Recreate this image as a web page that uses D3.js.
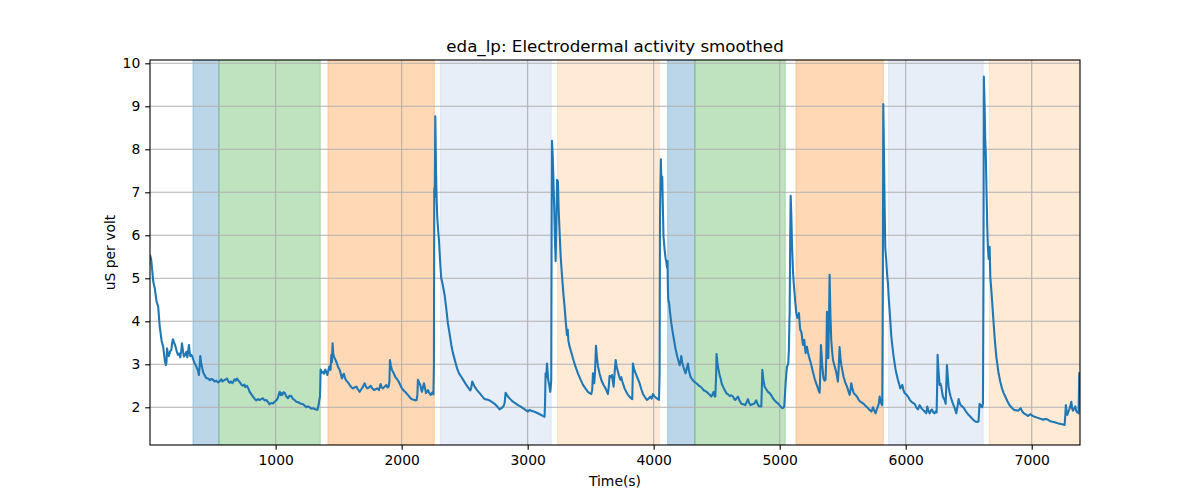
<!DOCTYPE html>
<html>
<head>
<meta charset="utf-8">
<script src="https://cdn.jsdelivr.net/npm/d3@7/dist/d3.min.js"></script>
<style>
  body { margin: 0; background: #fff; }
  text { font-family: "DejaVu Sans", sans-serif; }
</style>
</head>
<body>
<svg id="chart"></svg>
<script>
// time stamps (s) and smoothed eda values (uS per volt)
var timeVals = [3,13,29,42,55,68,80,95,108,120,129,134,138,145,153,162,172,180,185,195,206,215,225,235,243,250,257,265,272,282,291,299,306,312,318,323,331,339,348,357,366,376,384,391,397,402,408,418,427,436,448,463,478,490,503,515,529,542,555,562,569,578,587,600,614,625,635,645,656,665,674,683,693,705,719,730,741,752,760,772,783,794,808,820,833,846,860,873,886,899,912,926,940,952,965,979,992,1005,1018,1025,1032,1040,1047,1053,1062,1071,1085,1098,1110,1124,1136,1150,1164,1178,1190,1204,1218,1230,1243,1256,1270,1283,1296,1310,1320,1331,1341,1348,1352,1357,1365,1375,1384,1394,1402,1410,1418,1426,1432,1436,1442,1447,1452,1457,1463,1472,1481,1494,1508,1515,1526,1534,1542,1550,1561,1574,1587,1600,1614,1627,1640,1653,1666,1680,1693,1706,1716,1727,1740,1754,1767,1780,1793,1807,1820,1833,1842,1852,1865,1878,1888,1897,1903,1907,1914,1923,1936,1949,1962,1976,1989,2002,2020,2037,2054,2071,2087,2103,2112,2119,2125,2129,2138,2148,2155,2161,2168,2177,2185,2193,2200,2209,2220,2230,2240,2248,2252,2256,2259,2263,2267,2271,2274,2278,2283,2290,2296,2305,2314,2326,2341,2354,2367,2381,2394,2407,2420,2439,2455,2473,2492,2513,2530,2545,2552,2560,2568,2579,2598,2619,2638,2658,2678,2698,2718,2738,2758,2777,2792,2809,2817,2825,2833,2843,2862,2883,2903,2923,2942,2962,2982,3002,3015,3029,3048,3068,3088,3108,3120,3134,3138,3142,3148,3153,3158,3163,3172,3179,3184,3187,3190,3193,3198,3203,3207,3211,3216,3222,3228,3233,3240,3246,3253,3262,3275,3284,3293,3302,3312,3318,3323,3333,3346,3359,3379,3399,3419,3439,3458,3478,3492,3505,3512,3518,3524,3528,3534,3542,3550,3558,3571,3584,3600,3618,3628,3637,3644,3650,3660,3669,3676,3682,3690,3698,3706,3716,3726,3735,3743,3751,3760,3769,3782,3796,3813,3830,3833,3835,3845,3857,3872,3888,3902,3915,3930,3946,3960,3973,3984,3994,4004,4015,4028,4042,4047,4050,4054,4057,4062,4068,4073,4078,4087,4095,4100,4106,4110,4113,4117,4121,4130,4140,4150,4161,4174,4187,4195,4206,4213,4219,4226,4235,4244,4253,4262,4272,4280,4293,4306,4320,4333,4346,4359,4372,4385,4399,4415,4431,4444,4457,4466,4476,4484,4489,4495,4499,4507,4515,4523,4531,4540,4550,4563,4576,4590,4603,4616,4629,4638,4647,4658,4669,4682,4695,4712,4727,4738,4748,4758,4769,4783,4796,4805,4814,4824,4833,4845,4854,4858,4862,4870,4880,4893,4907,4920,4933,4946,4960,4973,4986,5000,5010,5021,5030,5036,5042,5047,5053,5058,5064,5068,5073,5077,5079,5083,5087,5092,5097,5105,5111,5118,5125,5132,5139,5145,5153,5158,5163,5168,5174,5180,5185,5190,5195,5200,5206,5211,5216,5224,5232,5242,5251,5264,5277,5290,5304,5310,5317,5322,5327,5333,5338,5343,5348,5356,5364,5370,5375,5381,5386,5391,5396,5402,5409,5416,5423,5434,5444,5453,5462,5468,5475,5482,5489,5498,5507,5520,5534,5545,5555,5562,5568,5576,5587,5600,5613,5626,5639,5652,5666,5676,5687,5698,5708,5718,5727,5733,5740,5750,5761,5770,5780,5787,5793,5800,5806,5814,5818,5822,5827,5832,5838,5846,5852,5859,5865,5872,5879,5886,5895,5904,5912,5920,5929,5938,5947,5957,5965,5973,5982,5991,6004,6018,6031,6044,6058,6071,6084,6097,6104,6110,6124,6137,6150,6163,6171,6180,6190,6199,6208,6218,6229,6237,6245,6249,6253,6260,6269,6276,6282,6289,6295,6303,6309,6317,6322,6327,6334,6340,6348,6356,6370,6383,6392,6401,6410,6420,6428,6436,6449,6462,6478,6494,6510,6526,6540,6552,6565,6578,6582,6586,6593,6600,6607,6613,6617,6620,6626,6631,6636,6642,6647,6652,6658,6662,6666,6671,6679,6686,6692,6699,6705,6712,6719,6728,6737,6750,6764,6777,6790,6807,6824,6842,6859,6875,6891,6902,6912,6925,6938,6955,6970,6980,6991,7007,7023,7043,7063,7076,7089,7106,7123,7140,7155,7175,7195,7215,7234,7248,7261,7266,7271,7276,7282,7291,7301,7308,7314,7320,7327,7336,7346,7352,7361,7367,7372,7377,7381];
var edaVals = [5.55,5.42,4.92,4.75,4.46,4.34,3.88,3.55,3.40,3.10,2.98,3.05,3.37,3.25,3.19,3.30,3.33,3.52,3.58,3.50,3.41,3.30,3.22,3.25,3.16,3.30,3.49,3.30,3.18,3.22,3.29,3.16,3.30,3.45,3.28,3.19,3.22,3.18,3.10,3.02,2.98,2.91,2.85,2.75,2.95,3.19,3.05,2.91,2.80,2.75,2.68,2.67,2.63,2.66,2.64,2.60,2.62,2.58,2.60,2.63,2.65,2.60,2.62,2.64,2.67,2.60,2.57,2.60,2.56,2.60,2.65,2.62,2.67,2.62,2.57,2.52,2.50,2.53,2.47,2.50,2.44,2.36,2.30,2.25,2.20,2.16,2.19,2.17,2.19,2.21,2.16,2.17,2.12,2.07,2.10,2.09,2.13,2.16,2.22,2.30,2.36,2.28,2.33,2.29,2.35,2.34,2.25,2.21,2.27,2.26,2.20,2.17,2.13,2.12,2.10,2.08,2.07,2.04,2.00,2.02,2.00,1.97,1.98,1.96,1.95,1.94,2.05,2.20,2.25,2.88,2.80,2.83,2.78,2.88,2.82,2.75,2.85,2.95,2.88,2.87,3.22,3.05,3.49,3.25,3.18,3.12,3.06,2.95,2.87,2.80,2.67,2.75,2.78,2.68,2.62,2.58,2.52,2.47,2.44,2.46,2.48,2.42,2.36,2.42,2.48,2.56,2.48,2.44,2.46,2.50,2.44,2.40,2.42,2.44,2.40,2.54,2.46,2.44,2.48,2.52,2.46,2.48,2.60,3.10,2.98,2.87,2.80,2.71,2.66,2.60,2.52,2.44,2.38,2.33,2.27,2.21,2.18,2.17,2.16,2.17,2.30,2.64,2.58,2.52,2.42,2.36,2.45,2.56,2.45,2.33,2.36,2.40,2.33,2.29,2.33,2.36,2.30,2.98,7.10,6.90,8.77,7.90,7.30,6.80,6.40,6.10,5.89,5.40,5.00,4.85,4.61,4.30,3.95,3.70,3.45,3.26,3.12,2.91,2.79,2.71,2.62,2.52,2.45,2.39,2.45,2.60,2.55,2.48,2.40,2.33,2.26,2.19,2.18,2.16,2.12,2.08,2.02,1.95,1.98,2.03,2.10,2.34,2.30,2.25,2.19,2.13,2.09,2.05,2.02,1.98,1.94,1.90,1.94,1.92,1.90,1.88,1.85,1.82,1.80,1.78,2.10,2.79,2.70,3.02,2.85,2.64,2.50,2.36,2.50,2.64,6.00,8.20,7.90,7.44,7.00,6.60,5.90,5.40,6.30,7.29,7.25,6.60,6.10,5.50,4.96,4.62,4.34,4.00,3.68,3.80,3.55,3.41,3.28,3.14,2.95,2.79,2.65,2.52,2.44,2.36,2.33,2.31,2.40,2.79,2.56,2.56,2.80,3.43,3.15,2.95,2.78,2.64,2.53,2.44,2.37,2.31,2.50,2.73,2.70,2.75,2.60,2.48,2.80,3.10,2.95,2.83,2.72,2.64,2.70,2.60,2.52,2.44,2.36,2.29,2.23,2.19,2.60,3.02,2.88,2.79,2.68,2.56,2.42,2.31,2.24,2.17,2.20,2.25,2.20,2.31,2.26,2.23,2.20,2.17,2.79,6.43,7.20,7.77,7.10,7.36,6.60,5.97,5.66,5.45,5.39,5.25,5.40,4.70,4.46,4.46,4.20,3.95,3.76,3.57,3.35,3.18,3.10,2.98,3.05,3.19,3.05,2.95,2.86,2.79,2.90,3.02,2.85,2.70,2.65,2.60,2.57,2.54,2.50,2.48,2.44,2.39,2.37,2.33,2.29,2.25,2.30,2.36,2.25,2.25,2.70,3.24,3.00,2.87,2.75,2.67,2.55,2.48,2.40,2.33,2.30,2.26,2.28,2.25,2.20,2.17,2.21,2.25,2.15,2.08,2.07,2.05,2.12,2.19,2.10,2.05,2.07,2.08,2.12,2.16,2.08,2.03,2.02,2.02,2.40,2.87,2.65,2.48,2.42,2.36,2.33,2.28,2.21,2.16,2.12,2.09,2.04,2.01,1.98,1.99,2.02,2.30,2.56,2.80,2.95,2.98,3.02,3.33,4.00,4.19,5.80,6.92,6.50,5.85,5.19,4.90,4.65,4.40,4.19,4.08,4.11,4.19,3.95,3.80,3.78,3.72,3.55,3.45,3.55,3.57,3.40,3.26,3.35,3.41,3.28,3.18,3.08,2.98,2.82,2.67,2.55,2.44,2.38,2.34,2.80,3.45,3.20,2.95,2.80,2.67,2.62,2.64,3.20,4.22,3.60,3.14,4.00,5.08,4.20,3.57,3.30,3.10,2.98,2.87,2.75,2.60,2.90,3.40,3.15,2.98,2.85,2.71,2.58,2.48,2.38,2.29,2.40,2.56,2.45,2.33,2.29,2.25,2.18,2.13,2.11,2.08,2.05,2.02,1.99,1.95,1.93,1.90,1.94,2.00,1.92,1.86,1.95,2.02,2.10,2.25,2.15,2.09,2.05,4.50,9.05,8.00,6.80,5.70,5.40,5.10,4.88,4.55,4.26,3.95,3.64,3.40,3.18,3.02,2.87,2.75,2.64,2.55,2.44,2.48,2.52,2.40,2.33,2.30,2.25,2.18,2.13,2.10,2.08,2.00,1.95,2.00,2.05,1.98,1.94,1.90,1.86,2.02,1.92,1.86,1.92,1.95,1.88,1.86,1.90,1.88,2.40,3.22,2.85,2.52,2.55,2.48,2.35,2.25,2.20,2.17,2.08,2.50,2.98,2.70,2.48,2.35,2.25,2.12,2.02,1.95,1.86,2.00,2.19,2.10,2.05,2.02,1.98,1.90,1.84,1.79,1.74,1.70,1.67,1.66,1.67,1.90,2.08,2.02,2.05,2.00,2.09,5.00,9.69,9.00,8.22,7.83,6.90,6.20,5.73,5.45,5.60,5.73,5.04,4.73,4.45,4.19,3.90,3.64,3.40,3.18,2.98,2.79,2.60,2.44,2.33,2.25,2.14,2.05,1.99,1.94,1.93,1.92,1.95,1.98,1.90,1.86,1.83,1.80,1.82,1.84,1.80,1.78,1.76,1.74,1.73,1.71,1.73,1.72,1.69,1.67,1.66,1.64,1.62,1.61,1.60,1.59,1.80,2.05,1.90,1.82,1.90,1.98,2.05,2.13,1.98,1.92,1.97,2.02,1.92,1.88,1.90,1.86,2.79,2.82];

// shaded task periods
var spanStart = [344, 550, 1415, 2309, 3237, 4111, 4327, 5129, 5864, 6663];
var spanEnd   = [550, 1354, 2259, 3187, 4045, 4327, 5044, 5822, 6615, 7383];
var spanColor = ["#1f77b4","#2ca02c","#ff7f0e","#aec7e8","#ffbb78","#1f77b4","#2ca02c","#ff7f0e","#aec7e8","#ffbb78"];

var xTicks = [1000, 2000, 3000, 4000, 5000, 6000, 7000];
var yTicks = [2, 3, 4, 5, 6, 7, 8, 9, 10];

var chart_width = 1200;
var chart_height = 500;
var margin = { top: 60, right: 120, bottom: 55, left: 150 };

function drawChart() {
    var width = chart_width - margin.left - margin.right;
    var height = chart_height - margin.top - margin.bottom;

    var svg = d3.select('#chart')
        .attr('width', chart_width)
        .attr('height', chart_height);

    var g = svg.append('g')
        .attr('transform', 'translate(' + margin.left + ',' + margin.top + ')');

    var x_scale = d3.scaleLinear().domain([3, 7383]).range([0, width]);
    var y_scale = d3.scaleLinear().domain([1.123, 10.077]).range([height, 0]);

    svg.append('defs').append('clipPath').attr('id', 'clip')
        .append('rect').attr('width', width).attr('height', height);

    var plot = g.append('g').attr('clip-path', 'url(#clip)');

    // spans, alpha 0.3 like axvspan
    plot.append('g')
        .selectAll('rect')
        .data(spanStart)
        .enter()
        .append('rect')
        .attr('x', (d) => x_scale(d))
        .attr('width', (d, i) => x_scale(spanEnd[i]) - x_scale(d))
        .attr('y', 0)
        .attr('height', height)
        .attr('fill', (d, i) => spanColor[i])
        .attr('fill-opacity', 0.3)
        .attr('stroke', (d, i) => spanColor[i])
        .attr('stroke-opacity', 0.3)
        .attr('stroke-width', 1);

    // grid
    plot.append('g')
        .selectAll('line')
        .data(xTicks)
        .enter()
        .append('line')
        .attr('x1', (d) => x_scale(d)).attr('x2', (d) => x_scale(d))
        .attr('y1', 0).attr('y2', height)
        .attr('stroke', '#b0b0b0').attr('stroke-width', 1.1);

    plot.append('g')
        .selectAll('line')
        .data(yTicks)
        .enter()
        .append('line')
        .attr('y1', (d) => y_scale(d)).attr('y2', (d) => y_scale(d))
        .attr('x1', 0).attr('x2', width)
        .attr('stroke', '#b0b0b0').attr('stroke-width', 1.1);

    var line = d3.line()
        .x((d, i) => x_scale(timeVals[i]))
        .y((d) => y_scale(d));

    plot.append('path')
        .datum(edaVals)
        .attr('fill', 'none')
        .attr('stroke', '#1f77b4')
        .attr('stroke-width', 2.08)
        .attr('stroke-linejoin', 'round')
        .attr('d', line);

    // axes
    var xAxis = g.append('g')
        .attr('transform', 'translate(0,' + height + ')')
        .call(d3.axisBottom(x_scale).tickValues(xTicks).tickFormat(d3.format('d'))
            .tickSize(4.86).tickPadding(4.86).tickSizeOuter(0));

    var yAxis = g.append('g')
        .call(d3.axisLeft(y_scale).tickValues(yTicks).tickFormat(d3.format('d'))
            .tickSize(4.86).tickPadding(4.86).tickSizeOuter(0));

    [xAxis, yAxis].forEach(function(a) {
        a.select('.domain').remove();
        a.selectAll('line').attr('stroke', '#000').attr('stroke-width', 1.1);
        a.selectAll('text')
            .style('font-family', '"DejaVu Sans", sans-serif')
            .style('font-size', '13.9px')
            .attr('fill', '#000');
    });

    // frame
    g.append('rect')
        .attr('width', width).attr('height', height)
        .attr('fill', 'none').attr('stroke', '#000').attr('stroke-width', 1.1);

    svg.append('text')
        .attr('x', margin.left + width / 2)
        .attr('y', 52)
        .attr('text-anchor', 'middle')
        .style('font-size', '16.7px')
        .text('eda_lp: Electrodermal activity smoothed');

    svg.append('text')
        .attr('x', margin.left + width / 2)
        .attr('y', 486)
        .attr('text-anchor', 'middle')
        .style('font-size', '13.9px')
        .text('Time(s)');

    svg.append('text')
        .attr('transform', 'translate(115,' + (margin.top + height / 2) + ') rotate(-90)')
        .attr('text-anchor', 'middle')
        .style('font-size', '13.9px')
        .text('uS per volt');
}

drawChart();
</script>
</body>
</html>
